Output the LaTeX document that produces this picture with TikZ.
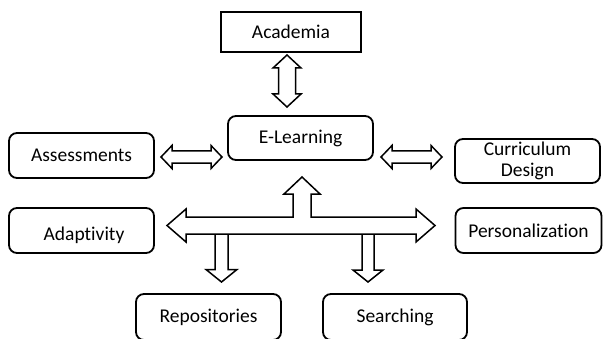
\documentclass[tikz,border=0pt]{standalone}
\usepackage{fontspec}
\setmainfont{Carlito}[Ligatures=CommonOff]
\begin{document}
\begin{tikzpicture}[x=1pt,y=-1pt,
  box/.style={draw, line width=1.8pt, rounded corners=8pt, minimum width=145pt,
    minimum height=45pt, inner sep=0pt, outer sep=0pt, align=center,
    font=\fontsize{19.5}{21}\selectfont},
  sharpbox/.style={box, rounded corners=0pt, line width=2.6pt, minimum width=140pt, minimum height=40pt},
  boxtext/.style={inner sep=0pt, font=\fontsize{19.5}{21}\selectfont},
  blockarrow/.style={draw, line width=1.5pt, fill=white, line join=miter}]

\path[use as bounding box, clip] (0,0) rectangle (604,339);
\fill[white] (0,0) rectangle (604,339);

% boxes
\node[sharpbox] (acad) at (291,32) {Academia};
\node[box, minimum height=44pt] (elearn) at (300.5,138) {E-Learning};
\node[box] (assess) at (81.5,155.5) {Assessments};
\node[box, minimum height=44pt] (curr) at (527.5,161) {Curriculum\\Design};
\node[box, label={[name=adapt-text, boxtext, xshift=2.5pt, yshift=-4.5pt]center:Adaptivity}] (adapt) at (81.5,230.5) {};
\node[box, minimum width=146pt] (pers) at (528.5,230.5) {Personalization};
\node[box, minimum height=46pt] (repo) at (208.5,317) {Repositories};
\node[box, minimum width=144pt, minimum height=46pt] (search) at (395,317) {Searching};

% Academia <-> E-Learning
\draw[blockarrow] (287,55) -- (301,68) -- (295.5,68) -- (295.5,94) -- (301,94) -- (287,107)
  -- (273,94) -- (278.5,94) -- (278.5,68) -- (273,68) -- cycle;

% Assessments <-> E-Learning
\draw[blockarrow] (161,157) -- (172,145.5) -- (172,151) -- (211,151) -- (211,145.5) -- (222,157)
  -- (211,168.5) -- (211,163) -- (172,163) -- (172,168.5) -- cycle;

% E-Learning <-> Curriculum Design
\draw[blockarrow] (381,157) -- (392,145.5) -- (392,151) -- (431,151) -- (431,145.5) -- (442,157)
  -- (431,168.5) -- (431,163) -- (392,163) -- (392,168.5) -- cycle;

% down arrows
\draw[blockarrow] (215,234) -- (228,234) -- (228,269.5) -- (237,269.5) -- (221.5,282)
  -- (206,269.5) -- (215,269.5) -- cycle;
\draw[blockarrow] (362,234) -- (374,234) -- (374,270) -- (383,270) -- (368,282)
  -- (353,270) -- (362,270) -- cycle;

% T-shaped arrow
\draw[blockarrow] (167,225.5) -- (186,209) -- (186,217) -- (293,217) -- (293,194) -- (284,194)
  -- (302,177) -- (320,194) -- (311,194) -- (311,217) -- (416,217) -- (416,209) -- (435,225.5)
  -- (416,242) -- (416,234) -- (186,234) -- (186,242) -- cycle;

\end{tikzpicture}
\end{document}
